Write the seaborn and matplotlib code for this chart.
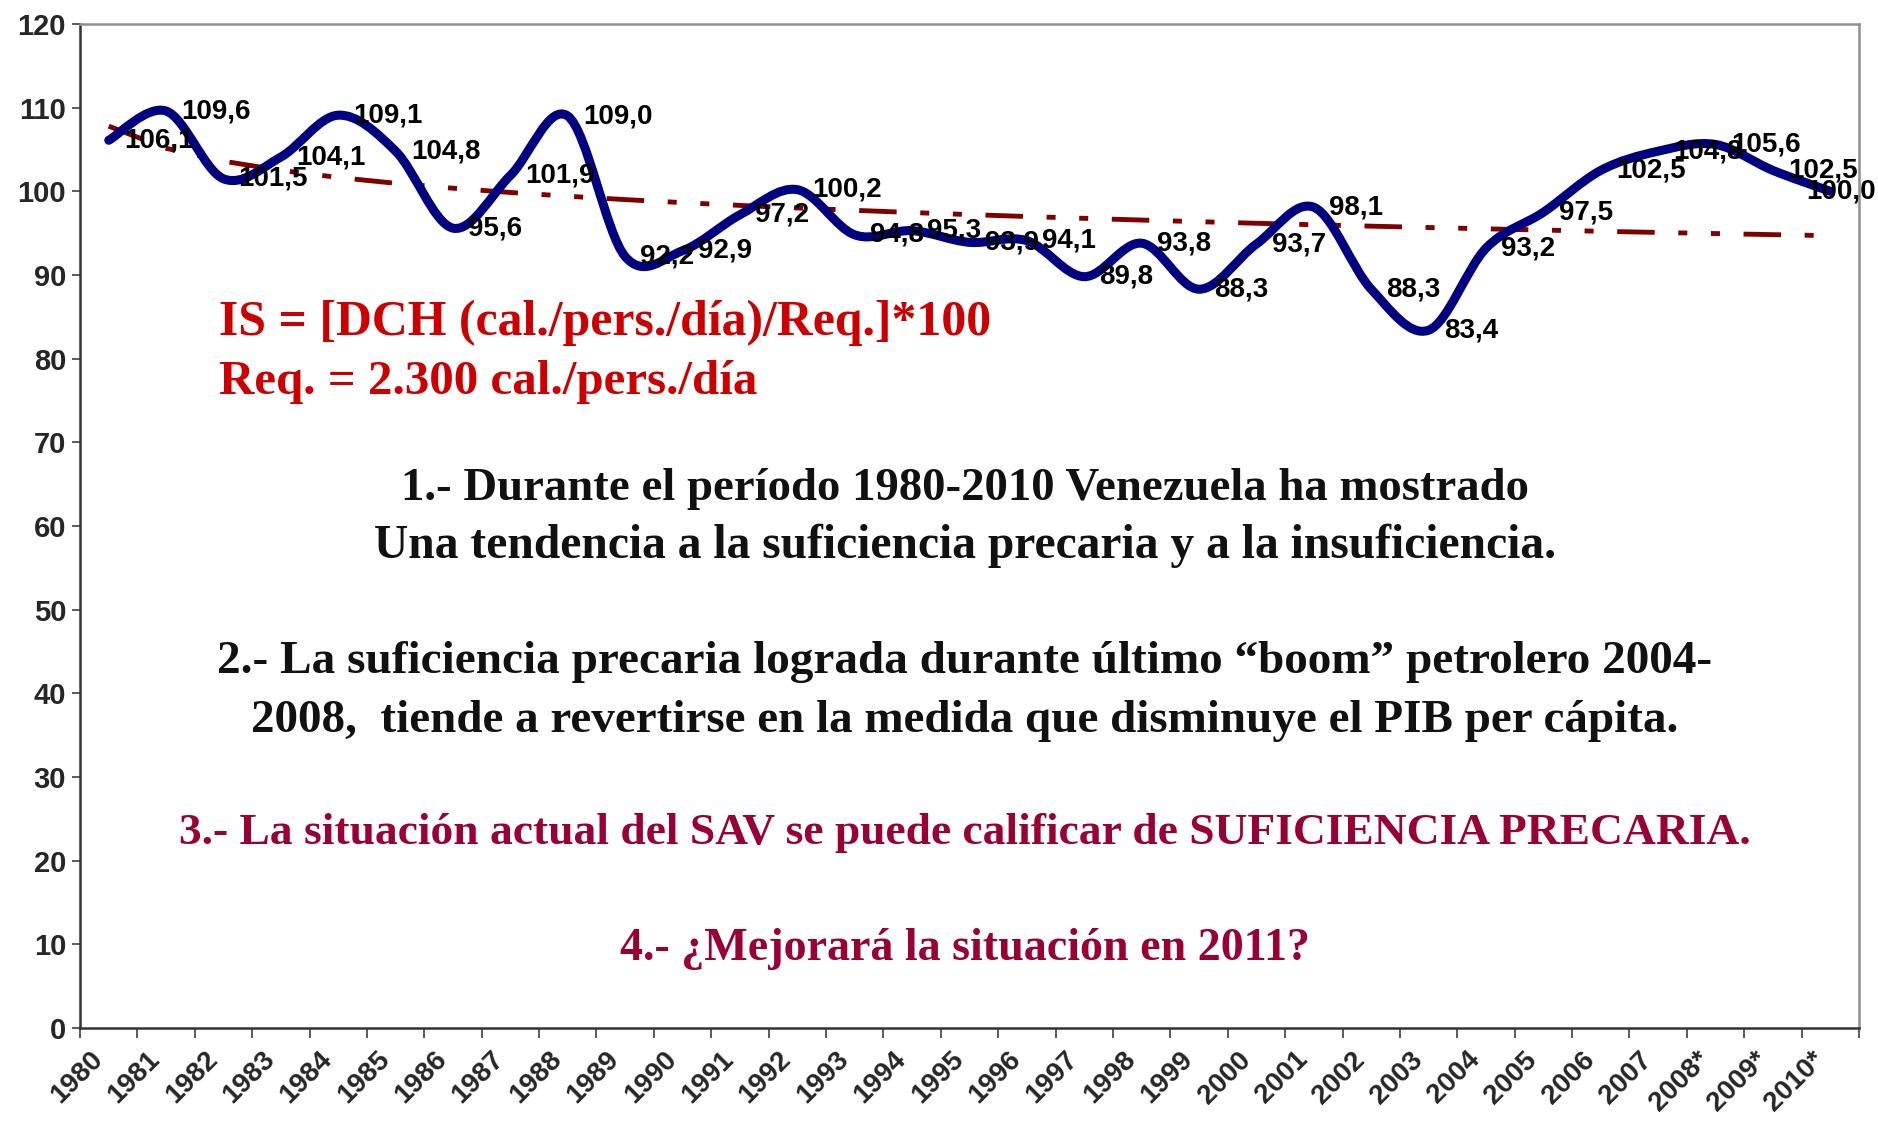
# Índice de suficiencia (IS) alimentaria, Venezuela 1980-2010

import numpy as np
import pandas as pd
import seaborn as sns
import matplotlib.pyplot as plt
from matplotlib.path import Path
from matplotlib.patches import PathPatch
from matplotlib.transforms import ScaledTranslation

# data

years = ['1980', '1981', '1982', '1983', '1984', '1985', '1986', '1987', '1988',
         '1989', '1990', '1991', '1992', '1993', '1994', '1995', '1996', '1997',
         '1998', '1999', '2000', '2001', '2002', '2003', '2004', '2005', '2006',
         '2007', '2008*', '2009*', '2010*']

is_values = [106.1, 109.6, 101.5, 104.1, 109.1, 104.8, 95.6, 101.9, 109.0,
             92.2, 92.9, 97.2, 100.2, 94.8, 95.3, 93.9, 94.1, 89.8,
             93.8, 88.3, 93.7, 98.1, 88.3, 83.4, 93.2, 97.5, 102.5,
             104.8, 105.6, 102.5, 100.0]

y_ticks = [0, 10, 20, 30, 40, 50, 60, 70, 80, 90, 100, 110, 120]

formula_lines = ["IS = [DCH (cal./pers./día)/Req.]*100",
                 "Req. = 2.300 cal./pers./día"]

note_lines = ["1.- Durante el período 1980-2010 Venezuela ha mostrado",
              "Una tendencia a la suficiencia precaria y a la insuficiencia.",
              "2.- La suficiencia precaria lograda durante último \u201cboom\u201d petrolero 2004-",
              "2008,  tiende a revertirse en la medida que disminuye el PIB per cápita.",
              "3.- La situación actual del SAV se puede calificar de SUFICIENCIA PRECARIA.",
              "4.- ¿Mejorará la situación en 2011?"]

df = pd.DataFrame({'year': years, 'IS': is_values})
df['pos'] = np.arange(len(df))

# logarithmic trend line (like Excel's)
xl = np.log(df['pos'] + 1)
b, a = np.polyfit(xl, df['IS'], 1)
df['trend'] = a + b * xl

# style
sns.set_theme(style="white")
plt.rcParams['font.family'] = ['Liberation Sans', 'DejaVu Sans']
plt.rcParams['lines.scale_dashes'] = False

W, H = 1878, 1122
fig = plt.figure(figsize=(W / 100, H / 100), dpi=100)
ax = fig.add_axes([80 / W, 1 - 1028 / H, (1859 - 80) / W, (1028 - 24) / H])

# trend
sns.lineplot(data=df, x='pos', y='trend', color='#800000', linewidth=3.5, ax=ax)
ax.lines[-1].set_dashes([27, 17, 6.5, 17, 6.5, 17])
ax.lines[-1].set_dash_capstyle('butt')

# smoothed series (Excel style bezier through every point)
pts = df[['pos', 'IS']].to_numpy(dtype=float)
ext = np.vstack([pts[0], pts, pts[-1]])
verts = [tuple(pts[0])]
codes = [Path.MOVETO]
for i in range(len(pts) - 1):
    p0, p1, p2, p3 = ext[i], ext[i + 1], ext[i + 2], ext[i + 3]
    c1 = p1 + (p2 - p0) / 6.0
    c2 = p2 - (p3 - p1) / 6.0
    verts += [tuple(c1), tuple(c2), tuple(p2)]
    codes += [Path.CURVE4] * 3
ax.add_patch(PathPatch(Path(verts, codes), fill=False, edgecolor='#000080',
                       linewidth=6.5, capstyle='round', joinstyle='round', zorder=3))

# data labels (the last one is pushed back inside the figure, as Excel does)
last = len(df) - 1
for i, r in df.iterrows():
    txt = f"{r['IS']:.1f}".replace('.', ',')
    if i == last:
        ax.annotate(txt, (0.999, r['IS']), xycoords=('figure fraction', 'data'),
                    ha='right', va='center', fontsize=20, fontweight='bold',
                    color='black', zorder=4)
    else:
        ax.annotate(txt, (r['pos'], r['IS']), xytext=(11, 0),
                    textcoords='offset points', ha='left', va='center',
                    fontsize=20, fontweight='bold', color='black', zorder=4)

# axes
ax.set_xlim(-0.5, len(df) - 0.5)
ax.set_ylim(0, 120)
ax.set_yticks(y_ticks)
ax.set_yticklabels([str(v) for v in y_ticks], fontsize=21, fontweight='bold')
ax.set_xticks(np.arange(-0.5, len(df)), labels=[''] * (len(df) + 1))
ax.set_xticks(df['pos'], labels=df['year'], minor=True)
ax.tick_params(axis='x', which='major', direction='out', length=7, width=1.2,
               color='#404040', bottom=True)
ax.tick_params(axis='x', which='minor', length=0, pad=20, bottom=True)
ax.tick_params(axis='y', direction='out', length=6, width=1.2, color='#404040',
               left=True, pad=4)
for lab in ax.get_xticklabels(minor=True):
    lab.set_rotation(45)
    lab.set_ha('right')
    lab.set_va('center')
    lab.set_rotation_mode('anchor')
    lab.set_fontsize(20)
    lab.set_fontweight('bold')
    lab.set_transform(lab.get_transform() + ScaledTranslation(-10 / 100, 0, fig.dpi_scale_trans))
ax.set_xlabel('')
ax.set_ylabel('')
ax.grid(False)
for side in ['left', 'bottom']:
    ax.spines[side].set_color('#333333')
    ax.spines[side].set_linewidth(1.8)
for side in ['top', 'right']:
    ax.spines[side].set_color('#909090')
    ax.spines[side].set_linewidth(1.8)

# text block; size fitted to the width of each line in the reference
fig.canvas.draw()
renderer = fig.canvas.get_renderer()


def fitted_text(s, x, y, width, color, ha):
    t = fig.text(x / W, 1 - y / H, s, ha=ha, va='baseline', color=color,
                 fontsize=30, fontweight='bold',
                 family=['Liberation Serif', 'DejaVu Serif'])
    w = t.get_window_extent(renderer).width
    t.set_fontsize(30 * width / w)
    return t


red = '#CC0000'
dark = '#111111'
wine = '#990033'
fitted_text(formula_lines[0], 219, 335, 771, red, 'left')
fitted_text(formula_lines[1], 219, 394, 539, red, 'left')

cx = 965
fitted_text(note_lines[0], cx, 500, 1128, dark, 'center')
fitted_text(note_lines[1], cx, 558, 1180, dark, 'center')
fitted_text(note_lines[2], cx, 673, 1494, dark, 'center')
fitted_text(note_lines[3], cx, 732, 1428, dark, 'center')
fitted_text(note_lines[4], cx, 844, 1567, wine, 'center')
fitted_text(note_lines[5], cx, 960, 690, wine, 'center')

fig.savefig('out.png', dpi=100)
